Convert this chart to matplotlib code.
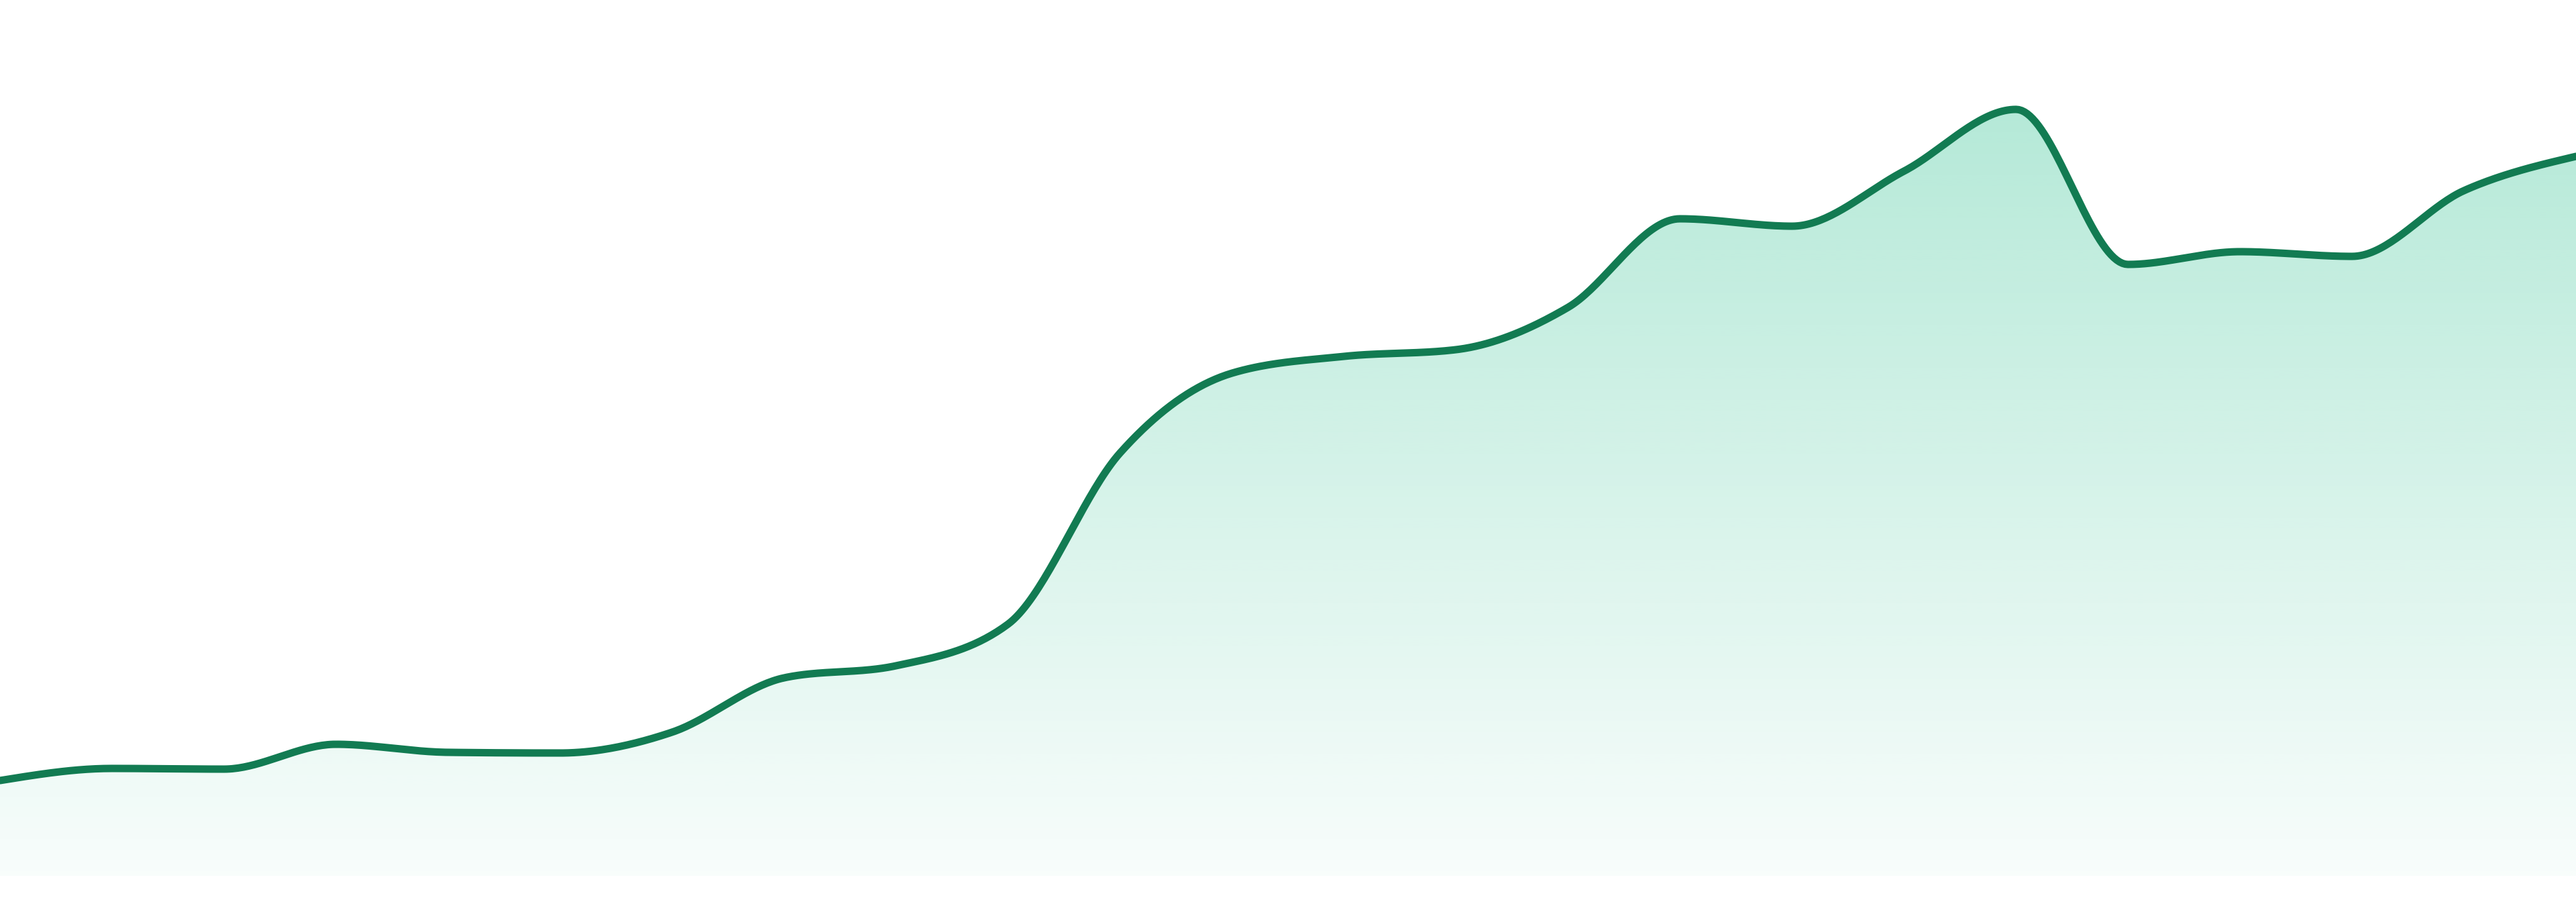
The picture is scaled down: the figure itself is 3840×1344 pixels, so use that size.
import numpy as np
import matplotlib
matplotlib.use("Agg")
import matplotlib.pyplot as plt
from matplotlib.patches import PathPatch
from matplotlib.path import Path

# ---- data ----
x_index = list(range(24))
values = [14.2, 16.0, 15.9, 19.6, 18.4, 18.3, 21.4, 29.5, 31.3, 37.5, 63.0, 74.9,
          77.4, 78.4, 84.7, 97.9, 96.8, 105.0, 114.2, 91.1, 93.0, 92.3, 102.1, 107.2]

line_color = "#127b52"
fill_color = "#10b981"


def monotone_x(xs, ys, n=40):
    xs = np.asarray(xs, float)
    ys = np.asarray(ys, float)
    m = len(xs)
    h = np.diff(xs)
    s = np.diff(ys) / h
    t = np.zeros(m)
    for i in range(1, m - 1):
        s0, s1 = s[i - 1], s[i]
        p = (s0 * h[i] + s1 * h[i - 1]) / (h[i - 1] + h[i])
        t[i] = (np.sign(s0) + np.sign(s1)) * min(abs(s0), abs(s1), 0.5 * abs(p))
    t[0] = (3 * s[0] - t[1]) / 2
    t[-1] = (3 * s[-1] - t[-2]) / 2
    px, py = [], []
    for i in range(m - 1):
        dx = h[i] / 3
        x0, y0 = xs[i], ys[i]
        x3, y3 = xs[i + 1], ys[i + 1]
        x1, y1 = x0 + dx, y0 + dx * t[i]
        x2, y2 = x3 - dx, y3 - dx * t[i + 1]
        u = np.linspace(0, 1, n, endpoint=(i == m - 2))
        bx = (1 - u) ** 3 * x0 + 3 * (1 - u) ** 2 * u * x1 + 3 * (1 - u) * u ** 2 * x2 + u ** 3 * x3
        by = (1 - u) ** 3 * y0 + 3 * (1 - u) ** 2 * u * y1 + 3 * (1 - u) * u ** 2 * y2 + u ** 3 * y3
        px.append(bx)
        py.append(by)
    return np.concatenate(px), np.concatenate(py)


fig = plt.figure(figsize=(38.4, 13.44), dpi=100)
fig.patch.set_facecolor("white")
ax = fig.add_axes([0, 39 / 1344, 1, 1305 / 1344])
ax.set_xlim(0, 23)
ax.set_ylim(0, 130.5)
ax.axis("off")

cx, cy = monotone_x(x_index, values)

# gradient fill clipped by area under curve
verts = np.column_stack([np.r_[cx, cx[-1], cx[0]], np.r_[cy, 0, 0]])
path = Path(verts)
patch = PathPatch(path, facecolor="none", edgecolor="none")
ax.add_patch(patch)

rgb = matplotlib.colors.to_rgb(fill_color)
H = 512
alpha = np.linspace(0.31, 0.03, H)  # top -> bottom
img = np.zeros((H, 2, 4))
img[..., 0] = rgb[0]
img[..., 1] = rgb[1]
img[..., 2] = rgb[2]
img[..., 3] = alpha[:, None]
top_val = max(values)
im = ax.imshow(img, extent=(0, 23, 0, top_val), origin="upper", aspect="auto",
               interpolation="bilinear", zorder=1)
im.set_clip_path(patch)

ax.plot(cx, cy, color=line_color, lw=8.0, solid_capstyle="round",
        solid_joinstyle="round", zorder=3, clip_on=False)

fig.savefig("out.png", dpi=100, facecolor="white")
